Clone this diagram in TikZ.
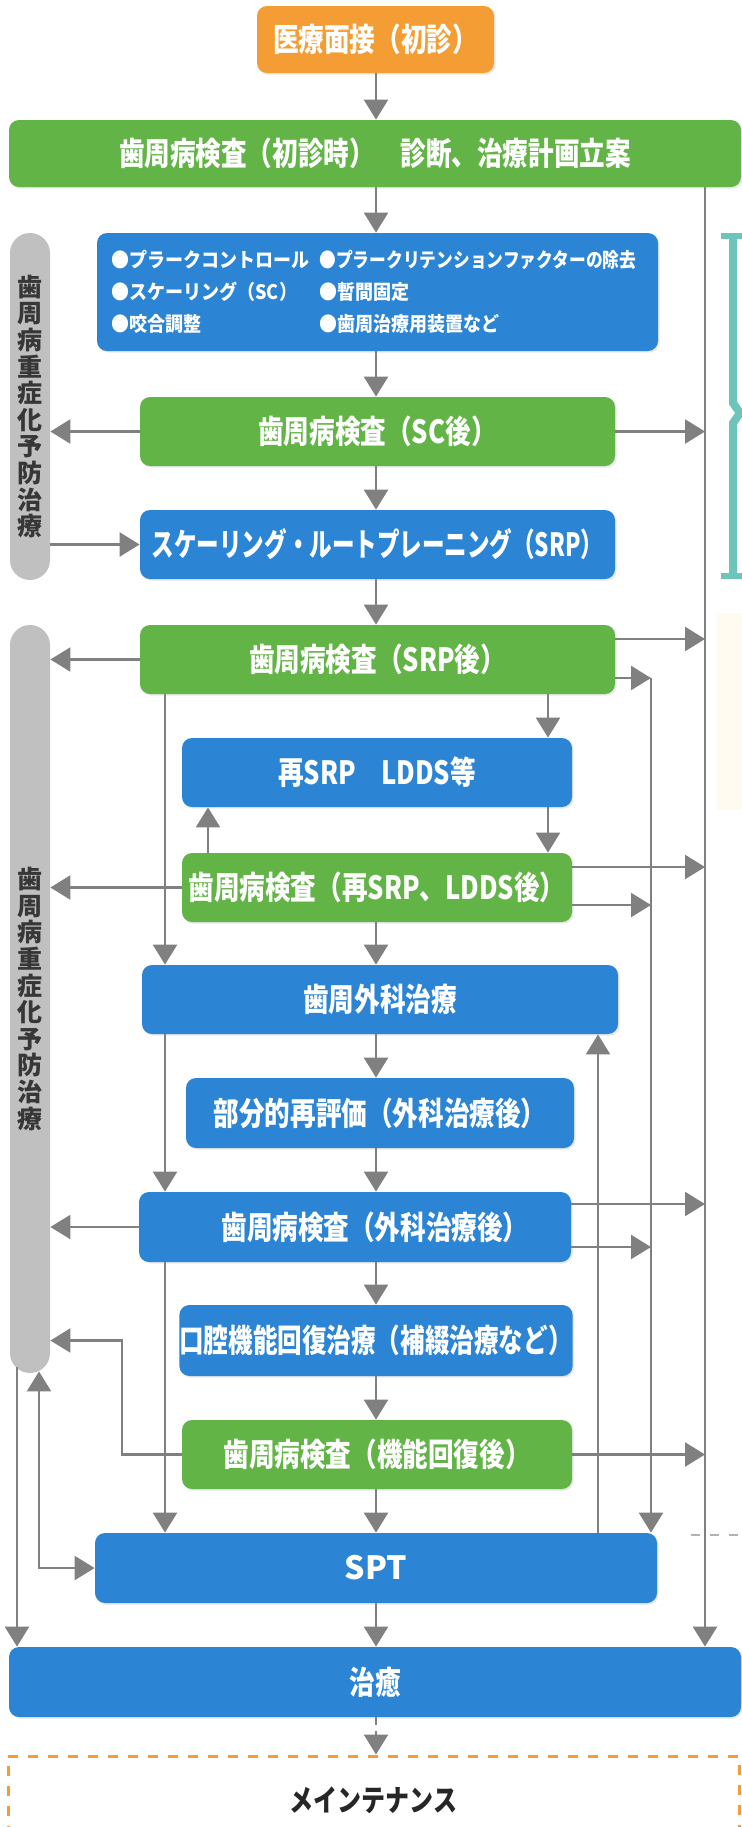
\documentclass[tikz,border=0pt]{standalone}
\usepackage{fontspec}
\newfontfamily\jp[FakeStretch=0.8]{Noto Sans CJK JP}
\newfontfamily\jpm[FakeStretch=0.9]{Noto Sans CJK JP}
\newfontfamily\jpn{Noto Sans CJK JP}
\usetikzlibrary{arrows.meta,calc,shadows}
\definecolor{orangeC}{RGB}{244,157,52}
\definecolor{greenC}{RGB}{98,180,70}
\definecolor{blueC}{RGB}{44,132,212}
\definecolor{barC}{RGB}{192,192,192}
\definecolor{arrC}{RGB}{128,128,128}
\definecolor{tealC}{RGB}{108,196,186}
\definecolor{barTxt}{RGB}{55,55,55}
\definecolor{creamC}{RGB}{255,251,240}
\tikzset{
  nbox/.style={rounded corners=5pt, inner sep=0pt, text=white,
    font=\jp\bfseries\fontsize{16pt}{18pt}\selectfont,
    drop shadow={opacity=0.18, shadow xshift=0.8pt, shadow yshift=-0.8pt}},
  gbox/.style={nbox, fill=greenC},
  bbox/.style={nbox, fill=blueC},
  obox/.style={nbox, fill=orangeC},
  sz/.style 2 args={minimum width=#1, minimum height=#2},
  vbar/.style={fill=barC, rounded corners=10pt, inner sep=0pt, minimum width=20pt,
    text=barTxt, align=center, font=\jpn\bfseries\fontsize{12.5pt}{13.3pt}\selectfont},
  arr/.style={draw=arrC, line width=1.2pt, -{Triangle[length=10pt,width=12pt]}},
  arrb/.style={draw=arrC, line width=1.2pt, {Triangle[length=10pt,width=12pt]}-{Triangle[length=10pt,width=12pt]}},
}
\begin{document}
\begin{tikzpicture}[x=0.5pt,y=-0.5pt]
\useasboundingbox (0,0) rectangle (742,1827);
\fill[white] (0,0) rectangle (742,1827);
\fill[creamC] (717,613) rectangle (742,810);

% column coordinates
\coordinate (xL0) at (17,0);
\coordinate (xL1) at (39,0);
\coordinate (xL2) at (122,0);
\coordinate (xL3) at (165,0);
\coordinate (xU1) at (208,0);
\coordinate (xC) at (376,0);
\coordinate (xR1) at (548,0);
\coordinate (xU2) at (598,0);
\coordinate (xR2) at (651,0);
\coordinate (xR3) at (705,0);

% nodes
\node[obox, sz={118.5pt}{33.5pt}] (orange) at (375.5,39.5) {医療面接（初診）};
\node[gbox, sz={366pt}{33.5pt}] (exam1) at (375,153.5) {歯周病検査（初診時）　診断、治療計画立案};
\node[bbox, sz={280.5pt}{59pt}, text width=266pt, align=left,
      font=\jpm\bfseries\fontsize{10pt}{16pt}\selectfont] (bullets) at (377.5,292)
  {\makebox[104pt][l]{●プラークコントロール}\scalebox{0.93}[1]{●プラークリテンションファクターの除去}\\
   \makebox[104pt][l]{●スケーリング（SC）}●暫間固定\\
   \makebox[104pt][l]{●咬合調整}●歯周治療用装置など};
\node[vbar, minimum height=173.5pt] (bar1) at (30,406.5) {歯\\周\\病\\重\\症\\化\\予\\防\\治\\療};
\node[gbox, sz={237.5pt}{34.5pt}] (sc) at (377.5,431.5) {歯周病検査（SC後）};
\node[bbox, sz={237.5pt}{34.5pt}] (srp) at (377.5,544.5) {\scalebox{0.88}[1]{スケーリング・ルートプレーニング（SRP）}};
\node[vbar, minimum height=374pt] (bar2) at (30,999) {歯\\周\\病\\重\\症\\化\\予\\防\\治\\療};
\node[gbox, sz={237.5pt}{34.5pt}] (srpafter) at (377.5,659.5) {歯周病検査（SRP後）};
\node[bbox, sz={195pt}{34.5pt}] (resrp) at (377,772.5) {再SRP　LDDS等};
\node[gbox, sz={195pt}{34.5pt}] (lddsafter) at (377,887.5) {歯周病検査（再SRP、LDDS後）};
\node[bbox, sz={238pt}{34.5pt}] (surgery) at (380,999.5) {歯周外科治療};
\node[bbox, sz={194pt}{35pt}] (partial) at (380,1113) {部分的再評価（外科治療後）};
\node[bbox, sz={216pt}{35pt}] (surgafter) at (355,1227) {\hspace*{20pt}歯周病検査（外科治療後）};
\node[bbox, sz={194pt}{35.5pt}] (oral) at (376,1340.5) {\scalebox{0.96}[1]{口腔機能回復治療（補綴治療など）}};
\node[gbox, sz={195pt}{34.5pt}] (funcafter) at (377,1454.5) {歯周病検査（機能回復後）};
\node[bbox, sz={281pt}{35pt}, font=\jpn\bfseries\fontsize{16pt}{18pt}\selectfont] (spt) at (376,1568) {SPT};
\node[bbox, sz={366pt}{35pt}] (cure) at (375,1682) {治癒};
\node[draw=orangeC, line width=1.5pt, dash pattern=on 5pt off 5pt, inner sep=0pt,
      minimum width=365.5pt, minimum height=44pt,
      font=\jp\bfseries\fontsize{15pt}{17pt}\selectfont, text=black!85] (maint) at (373.5,1800) {メインテナンス};

% teal bracket (cut at page edge)
\draw[tealC, line width=3pt] (721,236) -- (742,236) (721,576) -- (742,576);
\draw[tealC, line width=4pt] (733,236) -- (733,403) -- (740,413) -- (733,423) -- (733,576);
\draw[gray!60, line width=0.8pt, dash pattern=on 4.5pt off 5pt] (691,1535) -- (742,1535);

% central downward arrows
\foreach \a/\b in {orange/exam1, exam1/bullets, bullets/sc, sc/srp, srp/srpafter,
  lddsafter/surgery, surgery/partial, partial/surgafter, surgafter/oral,
  oral/funcafter, funcafter/spt, spt/cure}
  \draw[arr] (\a.south -| xC) -- (\b.north -| xC);
\draw[arr, dash pattern=on 4pt off 3pt] (cure.south -| xC) -- (maint.north -| xC);

% re-SRP loop
\draw[arr] (srpafter.south -| xR1) -- (resrp.north -| xR1);
\draw[arr] (resrp.south -| xR1) -- (lddsafter.north -| xR1);
\draw[arr] (lddsafter.north -| xU1) -- (resrp.south -| xU1);

% left inner vertical
\draw[arr] (srpafter.south -| xL3) -- (surgery.north -| xL3);
\draw[arr] (surgery.south -| xL3) -- (surgafter.north -| xL3);
\draw[arr] (surgafter.south -| xL3) -- (spt.north -| xL3);
% SPT back up to surgery
\draw[arr] (spt.north -| xU2) -- (surgery.south -| xU2);

% right side arrows
\coordinate (pa1) at ($(srpafter.east)+(0,-20.5)$);
\coordinate (pa2) at ($(srpafter.east)+(0,18.5)$);
\coordinate (pb1) at ($(lddsafter.east)+(0,-20.5)$);
\coordinate (pb2) at ($(lddsafter.east)+(0,17.5)$);
\coordinate (pc1) at ($(surgafter.east)+(0,-23)$);
\coordinate (pc2) at ($(surgafter.east)+(0,20)$);
\draw[arr] (sc.east) -- (sc.east -| xR3);
\draw[arr] (pa1) -- (pa1 -| xR3);
\draw[arr] (pa2) -- (pa2 -| xR2);
\draw[arr] (pb1) -- (pb1 -| xR3);
\draw[arr] (pb2) -- (pb2 -| xR2);
\draw[arr] (pc1) -- (pc1 -| xR3);
\draw[arr] (pc2) -- (pc2 -| xR2);
\draw[arr] (funcafter.east) -- (funcafter.east -| xR3);
\draw[arr] (pa2 -| xR2) -- (spt.north -| xR2);
\draw[arr] (exam1.south -| xR3) -- (cure.north -| xR3);

% left side arrows
\draw[arr] (sc.west) -- (sc.west -| bar1.east);
\draw[arr] (bar1.east |- srp.west) -- (srp.west);
\draw[arr] (srpafter.west) -- (srpafter.west -| bar2.east);
\draw[arr] (lddsafter.west) -- (lddsafter.west -| bar2.east);
\draw[arr] (surgafter.west) -- (surgafter.west -| bar2.east);
\draw[arr] (funcafter.west) -| (xL2 |- oral.west) -- (oral.west -| bar2.east);
\draw[arr] ($(bar2.south -| xL0)+(0,-6)$) -- (cure.north -| xL0);
\draw[arrb] ($(bar2.south -| xL1)+(0,-2)$) |- (spt.west);
\end{tikzpicture}
\end{document}
